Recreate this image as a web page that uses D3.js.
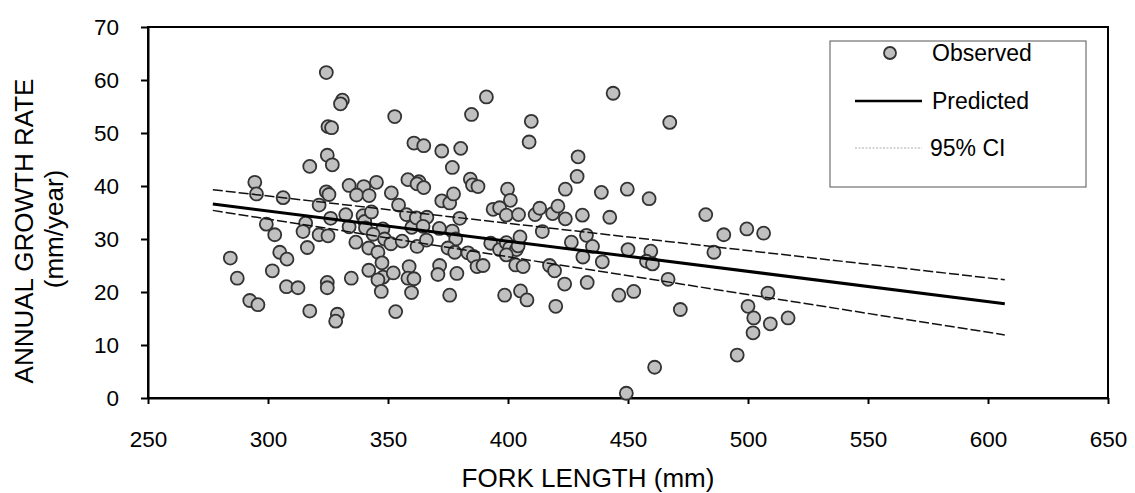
<!DOCTYPE html>
<html>
<head>
<meta charset="utf-8">
<script src="https://cdn.jsdelivr.net/npm/d3@7"></script>
<style>
  body { margin: 0; background: #fff; }
  svg { display: block; font-family: 'Liberation Sans', Arial, sans-serif; }
  .axis path, .axis line { stroke: #000; stroke-width: 2; }
  .axis text { fill: #000; font-size: 22.5px; }
  .title { font-size: 26px; fill: #000; }
  .dot { fill: #c0c0c0; stroke: #333; stroke-width: 1.8; }
  .fit { fill: none; stroke: #000; stroke-width: 3; }
  .ci { fill: none; stroke: #111; stroke-width: 1.5; stroke-dasharray: 10 3; }
  .legend-text { font-size: 23px; fill: #000; }
</style>
</head>
<body>
<div id="chart-container"></div>
<script>
// Observed fish: fork length (mm) and annual growth rate (mm/year)
const forkLength = [
  284.3, 287.2, 292.4, 295.8, 294.5, 295.2, 299.3, 302.8, 301.8, 306.3,
  304.9, 307.7, 307.9, 312.5, 315.7, 314.6, 316.4, 317.4, 317.4, 321.3,
  321.3, 325.0, 326.1, 324.7, 324.7, 328.9, 328.2, 324.3, 331.0, 330.2,
  325.0, 326.5, 324.7, 326.8, 324.3, 325.4, 333.8, 339.9, 345.2, 336.9,
  342.1, 332.4, 333.8, 339.6, 340.3, 340.6, 343.1, 347.9, 343.8, 348.6,
  336.6, 342.0, 345.8, 347.5, 342.0, 347.9, 345.8, 347.2, 334.7, 352.2,
  353.2, 351.2, 355.9, 351.4, 354.4, 352.8, 357.7, 359.9, 361.8, 366.2,
  364.6, 362.1, 366.0, 358.8, 358.3, 360.8, 359.8, 358.3, 362.9, 362.1,
  364.9, 360.8, 364.9, 372.4, 380.3, 376.8, 384.8, 391.0, 372.4, 375.7,
  377.3, 371.4, 376.8, 378.2, 379.9, 375.0, 377.8, 371.5, 370.8, 378.7,
  375.7, 384.3, 385.2, 387.5, 383.3, 385.6, 387.1, 389.6, 392.8, 396.5,
  399.3, 400.7, 403.5, 404.2, 399.3, 403.2, 406.3, 398.6, 405.2, 407.9,
  393.8, 396.5, 399.3, 399.8, 401.0, 404.4, 405.0, 411.3, 413.2, 414.3,
  418.6, 420.8, 423.9, 431.0, 442.4, 482.4, 409.7, 408.8, 443.8, 467.4,
  429.2, 428.8, 423.9, 438.9, 449.7, 458.8, 417.3, 419.4, 419.9, 423.6,
  433.0, 426.4, 432.7, 435.2, 431.2, 439.3, 446.2, 452.4, 450.0, 459.5,
  457.7, 460.2, 466.7, 471.8, 461.1, 449.3, 489.9, 485.8, 499.5, 506.5,
  508.3, 500.0, 502.4, 509.3, 516.7, 502.1, 495.5
];
const growthRate = [
  26.4, 22.6, 18.4, 17.6, 40.7, 38.5, 32.8, 30.8, 24.0, 37.8,
  27.5, 21.0, 26.2, 20.8, 33.0, 31.4, 28.4, 16.4, 43.7, 36.4,
  30.8, 30.6, 33.9, 21.8, 20.8, 15.8, 14.5, 61.4, 56.2, 55.5,
  51.2, 51.0, 45.8, 44.0, 38.9, 38.4, 40.1, 39.9, 40.7, 38.3,
  38.2, 34.6, 32.3, 34.4, 33.3, 32.1, 35.1, 31.9, 30.9, 30.0,
  29.4, 28.3, 27.5, 25.5, 24.1, 22.8, 22.3, 20.1, 22.6, 23.6,
  16.3, 29.1, 29.6, 38.7, 36.4, 53.1, 34.6, 32.2, 34.0, 34.1,
  32.4, 28.6, 29.8, 24.8, 22.6, 22.5, 19.9, 41.2, 40.8, 40.4,
  39.7, 48.1, 47.6, 46.6, 47.1, 43.5, 53.5, 56.8, 37.2, 36.8,
  38.5, 32.0, 31.5, 30.0, 33.9, 28.3, 27.5, 25.0, 23.3, 23.5,
  19.4, 41.3, 40.2, 39.9, 27.4, 26.7, 24.8, 25.0, 29.2, 28.0,
  29.3, 28.3, 28.0, 28.7, 27.0, 25.1, 24.8, 19.4, 20.2, 18.5,
  35.6, 35.9, 34.5, 39.4, 37.3, 34.6, 30.4, 34.6, 35.8, 31.4,
  34.8, 36.2, 33.8, 34.5, 34.1, 34.6, 52.2, 48.3, 57.5, 52.0,
  45.5, 41.8, 39.4, 38.8, 39.4, 37.6, 25.0, 24.0, 17.3, 21.5,
  21.8, 29.4, 30.7, 28.6, 26.6, 25.7, 19.4, 20.1, 28.0, 27.7,
  25.8, 25.3, 22.4, 16.7, 5.8, 0.9, 30.8, 27.5, 31.9, 31.1,
  19.8, 17.3, 15.1, 14.0, 15.1, 12.3, 8.1
];

// Regression line and 95% confidence limits at the ends of the fitted range
const fitLength = [277, 607];
const predicted = [36.6, 17.8];
const upperCI = [39.3, 22.3];
const lowerCI = [35.4, 11.9];

const xTicks = [250, 300, 350, 400, 450, 500, 550, 600, 650];
const yTicks = [0, 10, 20, 30, 40, 50, 60, 70];

const width = 1135,
  height = 493;
const margin = {top: 27, right: 27, bottom: 95, left: 148};
const gWidth = width - margin.left - margin.right;
const gHeight = height - margin.top - margin.bottom;

const xScale = d3.scaleLinear().domain([250, 650]).range([0, gWidth]);
const yScale = d3.scaleLinear().domain([0, 70]).range([gHeight, 0]);

const root = d3.select('div#chart-container')
  .append('svg')
  .attr('width', width)
  .attr('height', height);

const svg = root.append('g')
  .attr('transform', `translate(${margin.left}, ${margin.top})`);

// plot area frame
svg.append('rect')
  .attr('width', gWidth)
  .attr('height', gHeight)
  .attr('fill', 'none')
  .attr('stroke', '#000')
  .attr('stroke-width', 2);

svg.append('g')
  .attr('class', 'x axis')
  .attr('transform', `translate(0, ${gHeight})`)
  .call(d3.axisBottom(xScale).tickValues(xTicks).tickSize(6).tickPadding(27).tickSizeOuter(0));

svg.append('g')
  .attr('class', 'y axis')
  .call(d3.axisLeft(yScale).tickValues(yTicks).tickSize(7).tickPadding(22).tickSizeOuter(0));

// observed points
svg.selectAll('circle.dot')
  .data(forkLength.map((x, i) => [x, growthRate[i]]))
  .enter()
  .append('circle')
  .attr('class', 'dot')
  .attr('cx', d => xScale(d[0]))
  .attr('cy', d => yScale(d[1]))
  .attr('r', 6.5);

// predicted line and confidence limits drawn over the points
const lineGen = vals => d3.line()
  .x((_, i) => xScale(fitLength[i]))
  .y(d => yScale(d))(vals);

svg.append('path').attr('class', 'ci').attr('d', lineGen(upperCI));
svg.append('path').attr('class', 'ci').attr('d', lineGen(lowerCI));
svg.append('path').attr('class', 'fit').attr('d', lineGen(predicted));

// axis titles
root.append('text')
  .attr('class', 'title')
  .attr('x', 588)
  .attr('y', 487)
  .attr('text-anchor', 'middle')
  .text('FORK LENGTH (mm)');

root.append('text')
  .attr('class', 'title')
  .attr('transform', 'translate(33, 231) rotate(-90)')
  .attr('text-anchor', 'middle')
  .text('ANNUAL GROWTH RATE');

root.append('text')
  .attr('class', 'title')
  .attr('transform', 'translate(63, 229) rotate(-90)')
  .attr('text-anchor', 'middle')
  .text('(mm/year)');

// legend
const legend = root.append('g').attr('transform', 'translate(830, 41)');
legend.append('rect')
  .attr('width', 256)
  .attr('height', 146)
  .attr('fill', '#fff')
  .attr('stroke', '#555')
  .attr('stroke-width', 1);

legend.append('circle')
  .attr('class', 'dot')
  .attr('cx', 60)
  .attr('cy', 12)
  .attr('r', 6);

legend.append('line')
  .attr('x1', 25).attr('x2', 92)
  .attr('y1', 60).attr('y2', 60)
  .attr('stroke', '#000')
  .attr('stroke-width', 2.5);

legend.append('line')
  .attr('x1', 25).attr('x2', 92)
  .attr('y1', 107).attr('y2', 107)
  .attr('stroke', '#aaa')
  .attr('stroke-width', 1)
  .attr('stroke-dasharray', '2 1.5');

legend.selectAll('text.legend-text')
  .data(['Observed', 'Predicted', '95% CI'])
  .enter()
  .append('text')
  .attr('class', 'legend-text')
  .attr('x', (_, i) => i === 2 ? 100 : 102)
  .attr('y', (_, i) => [12, 60, 107][i])
  .attr('dy', '0.35em')
  .text(d => d);
</script>
</body>
</html>
